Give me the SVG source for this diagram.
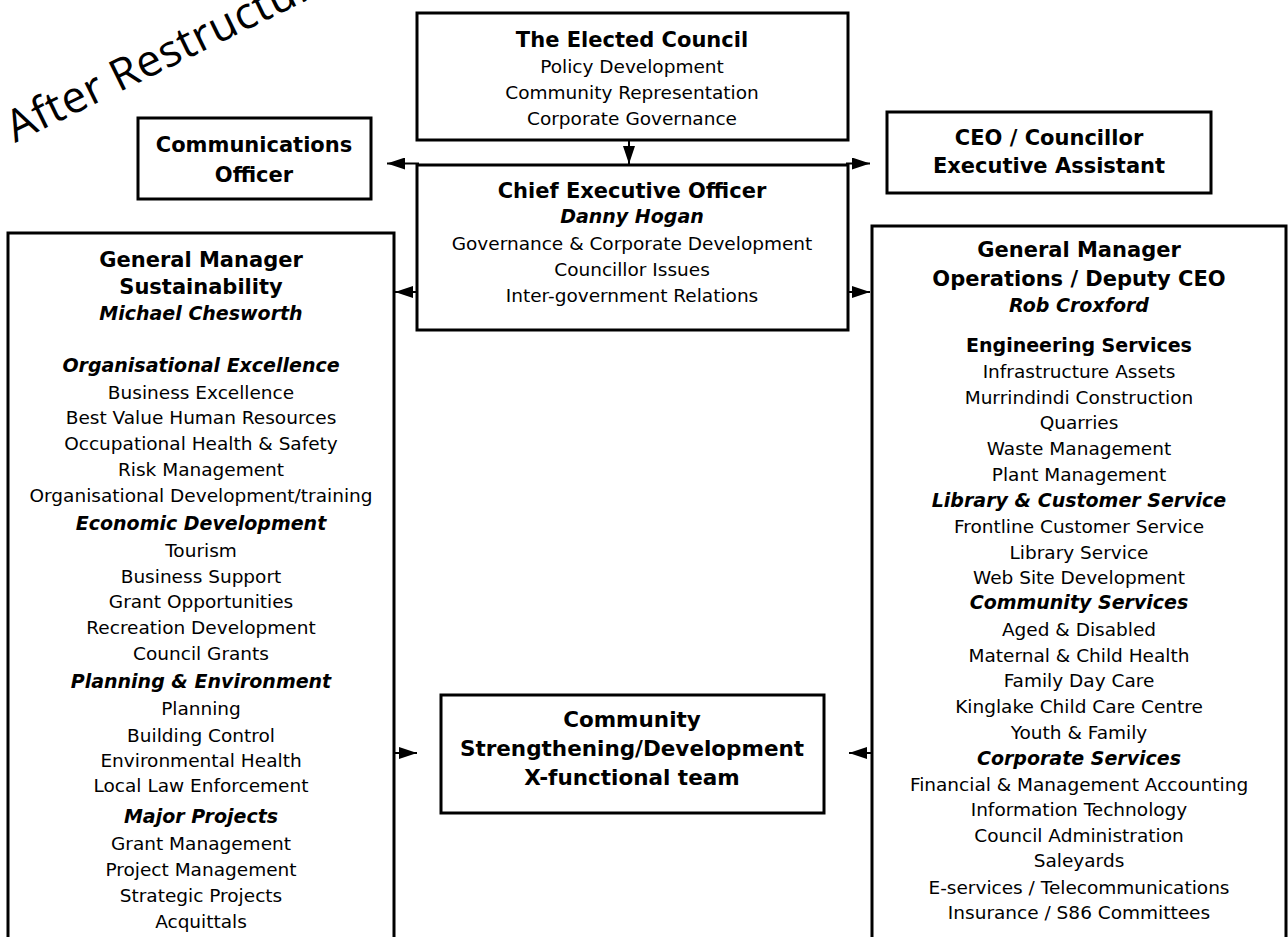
<svg xmlns="http://www.w3.org/2000/svg" width="1288" height="937" viewBox="0 0 1288 937">
<defs>
<style>
text{font-family:"DejaVu Sans","Liberation Sans",sans-serif;fill:#000;text-anchor:middle}
.r{font-size:18.5px}
.t{font-size:21px;font-weight:bold}
.h{font-size:19px;font-weight:bold}
.hi{font-size:19px;font-weight:bold;font-style:italic}
.box{fill:#fff;stroke:#000;stroke-width:3}
.open{fill:none;stroke:#000;stroke-width:3}
.ln{fill:none;stroke:#000;stroke-width:2}
.wm{font-family:"Open Sans","DejaVu Sans",sans-serif;font-size:44px;text-anchor:start;letter-spacing:0.5px}
</style>
<marker id="ah" viewBox="0 0 18 12" refX="18" refY="6" markerWidth="18" markerHeight="12" markerUnits="userSpaceOnUse" orient="auto">
<path d="M0,0 L18,6 L0,12 Z" fill="#000"/>
</marker>
</defs>

<text class="wm" transform="translate(15,143) rotate(-26)">After Restructure</text>

<g id="council">
<rect class="box" x="417" y="13" width="431" height="127"/>
<text class="t" x="632" y="47">The Elected Council</text>
<text class="r" x="632" y="73">Policy Development</text>
<text class="r" x="632" y="99">Community Representation</text>
<text class="r" x="632" y="125">Corporate Governance</text>
</g>

<g id="ceo">
<rect class="box" x="417" y="165" width="431" height="165"/>
<text class="t" x="632" y="198">Chief Executive Officer</text>
<text class="hi" x="632" y="223">Danny Hogan</text>
<text class="r" x="632" y="250">Governance &amp; Corporate Development</text>
<text class="r" x="632" y="276">Councillor Issues</text>
<text class="r" x="632" y="302">Inter-government Relations</text>
</g>

<g id="comms">
<rect class="box" x="138" y="118" width="233" height="81"/>
<text class="t" x="254" y="152">Communications</text>
<text class="t" x="254" y="182">Officer</text>
</g>

<g id="ea">
<rect class="box" x="887" y="112" width="324" height="81"/>
<text class="t" x="1049" y="145">CEO / Councillor</text>
<text class="t" x="1049" y="173">Executive Assistant</text>
</g>

<g id="gm-sustainability">
<path class="open" d="M8,940 V233 H394 V940"/>
<text class="t" x="201" y="267">General Manager</text>
<text class="t" x="201" y="294">Sustainability</text>
<text class="hi" x="201" y="320">Michael Chesworth</text>
<text class="hi" x="201" y="372">Organisational Excellence</text>
<text class="r" x="201" y="399">Business Excellence</text>
<text class="r" x="201" y="424">Best Value Human Resources</text>
<text class="r" x="201" y="450">Occupational Health &amp; Safety</text>
<text class="r" x="201" y="476">Risk Management</text>
<text class="r" x="201" y="502">Organisational Development/training</text>
<text class="hi" x="201" y="530">Economic Development</text>
<text class="r" x="201" y="557">Tourism</text>
<text class="r" x="201" y="583">Business Support</text>
<text class="r" x="201" y="608">Grant Opportunities</text>
<text class="r" x="201" y="634">Recreation Development</text>
<text class="r" x="201" y="660">Council Grants</text>
<text class="hi" x="201" y="688">Planning &amp; Environment</text>
<text class="r" x="201" y="715">Planning</text>
<text class="r" x="201" y="742">Building Control</text>
<text class="r" x="201" y="767">Environmental Health</text>
<text class="r" x="201" y="792">Local Law Enforcement</text>
<text class="hi" x="201" y="823">Major Projects</text>
<text class="r" x="201" y="850">Grant Management</text>
<text class="r" x="201" y="876">Project Management</text>
<text class="r" x="201" y="902">Strategic Projects</text>
<text class="r" x="201" y="928">Acquittals</text>
</g>

<g id="gm-operations">
<path class="open" d="M872,940 V226 H1286 V940"/>
<text class="t" x="1079" y="257">General Manager</text>
<text class="t" x="1079" y="286">Operations / Deputy CEO</text>
<text class="hi" x="1079" y="312">Rob Croxford</text>
<text class="h" x="1079" y="352">Engineering Services</text>
<text class="r" x="1079" y="378">Infrastructure Assets</text>
<text class="r" x="1079" y="404">Murrindindi Construction</text>
<text class="r" x="1079" y="429">Quarries</text>
<text class="r" x="1079" y="455">Waste Management</text>
<text class="r" x="1079" y="481">Plant Management</text>
<text class="hi" x="1079" y="507">Library &amp; Customer Service</text>
<text class="r" x="1079" y="533">Frontline Customer Service</text>
<text class="r" x="1079" y="559">Library Service</text>
<text class="r" x="1079" y="584">Web Site Development</text>
<text class="hi" x="1079" y="609">Community Services</text>
<text class="r" x="1079" y="636">Aged &amp; Disabled</text>
<text class="r" x="1079" y="662">Maternal &amp; Child Health</text>
<text class="r" x="1079" y="687">Family Day Care</text>
<text class="r" x="1079" y="713">Kinglake Child Care Centre</text>
<text class="r" x="1079" y="739">Youth &amp; Family</text>
<text class="hi" x="1079" y="765">Corporate Services</text>
<text class="r" x="1079" y="791">Financial &amp; Management Accounting</text>
<text class="r" x="1079" y="816">Information Technology</text>
<text class="r" x="1079" y="842">Council Administration</text>
<text class="r" x="1079" y="867">Saleyards</text>
<text class="r" x="1079" y="894">E-services / Telecommunications</text>
<text class="r" x="1079" y="919">Insurance / S86 Committees</text>
</g>

<g id="community">
<rect class="box" x="441" y="695" width="383" height="118"/>
<text class="t" x="632" y="727" style="font-size:21.5px">Community</text>
<text class="t" x="632" y="756" style="font-size:21.5px">Strengthening/Development</text>
<text class="t" x="632" y="785" style="font-size:21.5px">X-functional team</text>
</g>

<g id="connectors">
<line class="ln" x1="629" y1="141" x2="629" y2="164" marker-end="url(#ah)"/>
<line class="ln" x1="419" y1="163.5" x2="387" y2="163.5" marker-end="url(#ah)"/>
<line class="ln" x1="846" y1="163.5" x2="870" y2="163.5" marker-end="url(#ah)"/>
<line class="ln" x1="416" y1="292" x2="395" y2="292" marker-end="url(#ah)"/>
<line class="ln" x1="849" y1="292" x2="870" y2="292" marker-end="url(#ah)"/>
<line class="ln" x1="395" y1="753" x2="417" y2="753" marker-end="url(#ah)"/>
<line class="ln" x1="871" y1="753" x2="849" y2="753" marker-end="url(#ah)"/>
</g>
</svg>
